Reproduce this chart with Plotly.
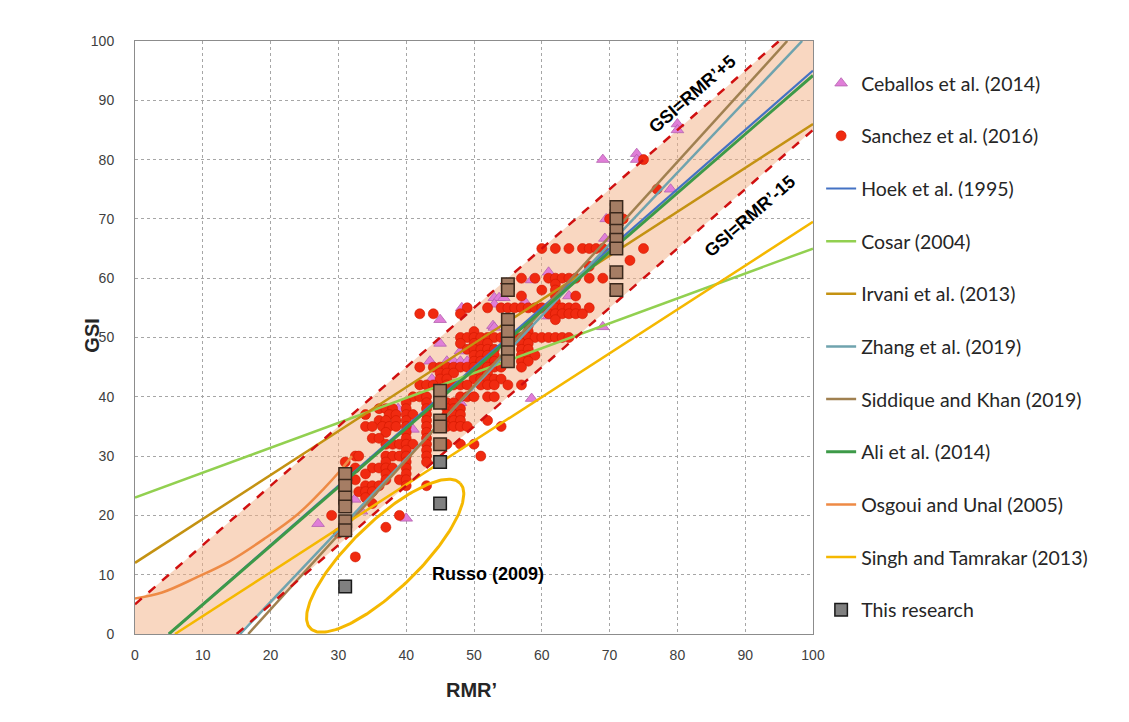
import numpy as np
import plotly.graph_objects as go

# ---------------- data ----------------
X_RANGE = [0, 100]
Y_RANGE = [0, 100]
tick_vals = [0, 10, 20, 30, 40, 50, 60, 70, 80, 90, 100]

# Ceballos et al. (2014) triangles
ceballos_rmr = [27, 32.4, 33.4, 40, 38.8, 41, 43.8, 48, 43.5, 46, 47, 48, 49, 48, 45, 45, 48.2,
                53, 53.7, 54.4, 53, 52.8, 53, 58.5, 61, 64, 61, 57.5, 69, 58.5, 69.5, 69.3, 69,
                74, 74, 80, 80, 79]
ceballos_gsi = [18.6, 22.7, 20.7, 19.5, 38, 34.5, 43, 39, 46, 46, 46, 46, 46, 47.7, 53, 49, 55,
                56.7, 56.7, 56.7, 55.6, 52, 51.7, 59.7, 61, 57, 53.6, 56, 51.8, 39.7, 70, 66.7, 80,
                81, 80, 86, 85, 75]

# Sanchez et al. (2016) circles: GSI row -> RMR' values
sanchez_rows = {
    80: [75], 75: [77], 70: [70, 71, 72],
    65: [60, 62, 64, 66, 67, 68, 69, 71, 75], 63: [73], 62: [67],
    60: [57, 59, 61, 62, 63, 64, 65, 67, 69], 59: [62], 58: [60, 62], 57: [57, 62, 65], 56: [62],
    55: [49, 52, 54, 55, 56, 57, 58, 59, 60, 61, 62, 63, 64, 65, 67],
    54: [42, 44, 48, 61, 62, 63, 64, 65, 66], 53: [62], 52: [58], 51: [50, 58],
    50: [48, 49, 50, 51, 52, 53, 54, 56, 57, 58, 59, 60, 61, 62, 63, 64],
    49: [48, 50, 51, 52, 57, 58], 48: [49, 50, 51, 52, 53, 57, 58],
    47: [50, 51, 52, 53, 57, 58, 59], 46: [50, 51, 52, 53, 57, 58],
    45: [42, 44, 45, 46, 47, 48, 49, 50, 51, 52, 53, 54, 57],
    44: [45, 46, 47, 50, 51, 52], 43: [45, 46, 50, 51, 52, 53, 54],
    42: [42, 43, 44, 46, 47, 48, 49, 51, 52, 53, 55, 57],
    40: [41, 42, 43, 48, 49, 50, 52, 53], 39: [40, 43, 46, 47],
    38: [36, 37, 38, 40, 43, 46, 47, 48], 37: [34, 37.5, 38.5, 40, 41, 43, 46, 47, 48],
    36: [36, 37, 38.5, 40, 43, 46, 47, 48, 52],
    35: [34, 35, 36.5, 37.5, 38.5, 40, 43, 46, 47, 48, 49, 54],
    34: [37, 40, 43], 33: [35, 36, 40, 43], 32: [37, 38, 39, 40, 41, 43, 46, 48, 50], 31: [40, 43],
    30: [32.5, 33, 37, 38, 39, 40, 43, 51], 29: [31, 37, 40, 43],
    28: [32.5, 35, 36, 37, 38, 40], 27: [34, 37, 40], 26: [32.5, 37, 39, 40],
    25: [34, 35, 36, 40, 43], 24: [33, 34, 35], 23: [34], 22: [35],
    20: [29, 39], 18: [37], 17: [30], 13: [32.5],
}

# This research (squares)
research_rmr = [31] * 6 + [45] * 5 + [55] * 7 + [71] * 7
research_gsi = [27, 25, 23, 21.5, 19, 17.5,
                41, 39, 36, 35, 32,
                59, 58, 53, 51, 49, 47.5, 46,
                72, 70, 68, 66.5, 65, 61, 58]
research_grey_rmr = [31, 45, 45]
research_grey_gsi = [8, 29, 22]

hoek_x, hoek_y = [5, 100], [0, 95]
cosar_x, cosar_y = [0, 100], [23, 65]
irvani_x, irvani_y = [0, 100], [12, 86]
zhang_x, zhang_y = [15.5, 98.4], [0, 100]
siddique_x, siddique_y = [16.7, 96.2], [0, 100]
ali_x, ali_y = [5, 100], [0, 94.2]
osgoui_x = [0, 4, 9, 14, 19, 24, 28, 30, 32]
osgoui_y = [6, 7, 9.5, 12.3, 16, 20.2, 24.7, 27.2, 30]
singh_x, singh_y = [5.9, 100], [0, 69.5]

# Limits GSI = RMR'+5 and GSI = RMR'-15
upper_x, upper_y = [0, 95], [5, 100]
lower_x, lower_y = [15, 100], [0, 85]

# Russo (2009) ellipse: centre, semi-axis vectors (data units)
russo_c = (36.9, 13.2)
russo_a = (11.06, 12.23)
russo_b = (3.48, -4.11)

# ---------------- figure ----------------
fig = go.Figure()

band_x = [X_RANGE[0]] + upper_x + [X_RANGE[1]] + lower_x[::-1]
band_y = [Y_RANGE[0]] + upper_y + [Y_RANGE[1]] + lower_y[::-1]
fig.add_trace(go.Scatter(x=band_x, y=band_y, fill="toself", mode="lines",
                         line=dict(width=0), fillcolor="rgba(244,176,132,0.5)",
                         showlegend=False, hoverinfo="skip"))

fig.add_trace(go.Scatter(x=ceballos_rmr, y=ceballos_gsi, mode="markers", name="Ceballos et al. (2014)",
                         marker=dict(symbol="triangle-up", size=11, color="#E07ED8",
                                     line=dict(color="#B462AE", width=0.8)),
                         legendgroup="g1", legendrank=1))

s_x, s_y = [], []
for g, xs in sanchez_rows.items():
    for xv in xs:
        s_x.append(xv)
        s_y.append(g)
fig.add_trace(go.Scatter(x=s_x, y=s_y, mode="markers", name="Sanchez et al. (2016)",
                         marker=dict(symbol="circle", size=10, color="#F02A10",
                                     line=dict(color="#D01800", width=0.6)),
                         legendgroup="g2", legendrank=2))

lines = [
    ("Hoek et al. (1995)", hoek_x, hoek_y, "#4472C4", 2.2, 3),
    ("Cosar (2004)", cosar_x, cosar_y, "#92D050", 2.5, 4),
    ("Irvani et al. (2013)", irvani_x, irvani_y, "#C49212", 2.5, 5),
    ("Zhang et al. (2019)", zhang_x, zhang_y, "#6FA3AE", 2.5, 6),
    ("Siddique and Khan (2019)", siddique_x, siddique_y, "#A08050", 2.5, 7),
    ("Ali et al. (2014)", ali_x, ali_y, "#3D9A48", 3, 8),
    ("Osgoui and Unal (2005)", osgoui_x, osgoui_y, "#EE8A45", 2.5, 9),
    ("Singh and Tamrakar (2013)", singh_x, singh_y, "#F5B800", 2.5, 10),
]
for name, xs, ys, col, w, rk in lines:
    fig.add_trace(go.Scatter(x=xs, y=ys, mode="lines", name=name,
                             line=dict(color=col, width=w, shape="spline" if len(xs) > 2 else "linear"),
                             legendgroup=f"g{rk}", legendrank=rk))

for xs, ys in [(upper_x, upper_y), (lower_x, lower_y)]:
    fig.add_trace(go.Scatter(x=xs, y=ys, mode="lines", showlegend=False, hoverinfo="skip",
                             line=dict(color="#D01010", width=2.5, dash="dash")))

t = np.linspace(0, 2 * np.pi, 200)
ex = russo_c[0] + np.cos(t) * russo_a[0] + np.sin(t) * russo_b[0]
ey = russo_c[1] + np.cos(t) * russo_a[1] + np.sin(t) * russo_b[1]
fig.add_trace(go.Scatter(x=ex, y=ey, mode="lines", showlegend=False, hoverinfo="skip",
                         line=dict(color="#F5B800", width=3), cliponaxis=False))

fig.add_trace(go.Scatter(x=research_rmr, y=research_gsi, mode="markers", showlegend=False,
                         marker=dict(symbol="square", size=12.5, color="#A57D64",
                                     line=dict(color="#3A281C", width=1.5))))
fig.add_trace(go.Scatter(x=research_grey_rmr, y=research_grey_gsi, mode="markers", name="This research",
                         marker=dict(symbol="square", size=12.5, color="#808080",
                                     line=dict(color="#1A1A1A", width=1.5)),
                         legendgroup="g11", legendrank=11))

ann_font = dict(family="Liberation Sans, Arial", size=18, color="#000000")
fig.add_annotation(x=82.2, y=91.1, text="<b>GSI=RMR’+5</b>", showarrow=False, textangle=-41,
                   font=ann_font)
fig.add_annotation(x=90.7, y=70.5, text="<b>GSI=RMR’-15</b>", showarrow=False, textangle=-41,
                   font=ann_font)
fig.add_annotation(x=52.1, y=10.1, text="<b>Russo (2009)</b>", showarrow=False, font=ann_font)

title_font = dict(family="Liberation Sans, Arial", size=20, color="#262626")
fig.add_annotation(xref="paper", yref="paper", x=-0.064, y=0.5025, text="<b>GSI</b>",
                   textangle=-90, showarrow=False, font=title_font,
                   xanchor="center", yanchor="middle")
fig.add_annotation(xref="paper", yref="paper", x=0.497, y=-0.0944, text="<b>RMR’</b>",
                   showarrow=False, font=title_font, xanchor="center", yanchor="middle")

axis_common = dict(tickvals=tick_vals, showgrid=True, gridcolor="#A6A6A6",
                   griddash="dot", gridwidth=1, zeroline=False, showline=True, linecolor="#8C8C8C",
                   linewidth=1, mirror=True, ticks="", ticklen=0,
                   tickfont=dict(family="Liberation Sans, Arial", size=14, color="#404040"))

fig.update_xaxes(**axis_common, range=X_RANGE, ticklabelstandoff=8)
fig.update_yaxes(**axis_common, range=Y_RANGE, ticklabelstandoff=17)

fig.update_layout(
    width=1121, height=714,
    margin=dict(l=127, r=316, t=33, b=88),
    paper_bgcolor="white", plot_bgcolor="white",
    legend=dict(x=1.012, y=0.9612, xanchor="left", yanchor="top", tracegroupgap=24.3,
                font=dict(family="Lato, Liberation Sans", size=19.5, color="#262626"),
                bgcolor="rgba(0,0,0,0)", itemsizing="trace"),
    showlegend=True,
)

fig.write_html("out.html")
